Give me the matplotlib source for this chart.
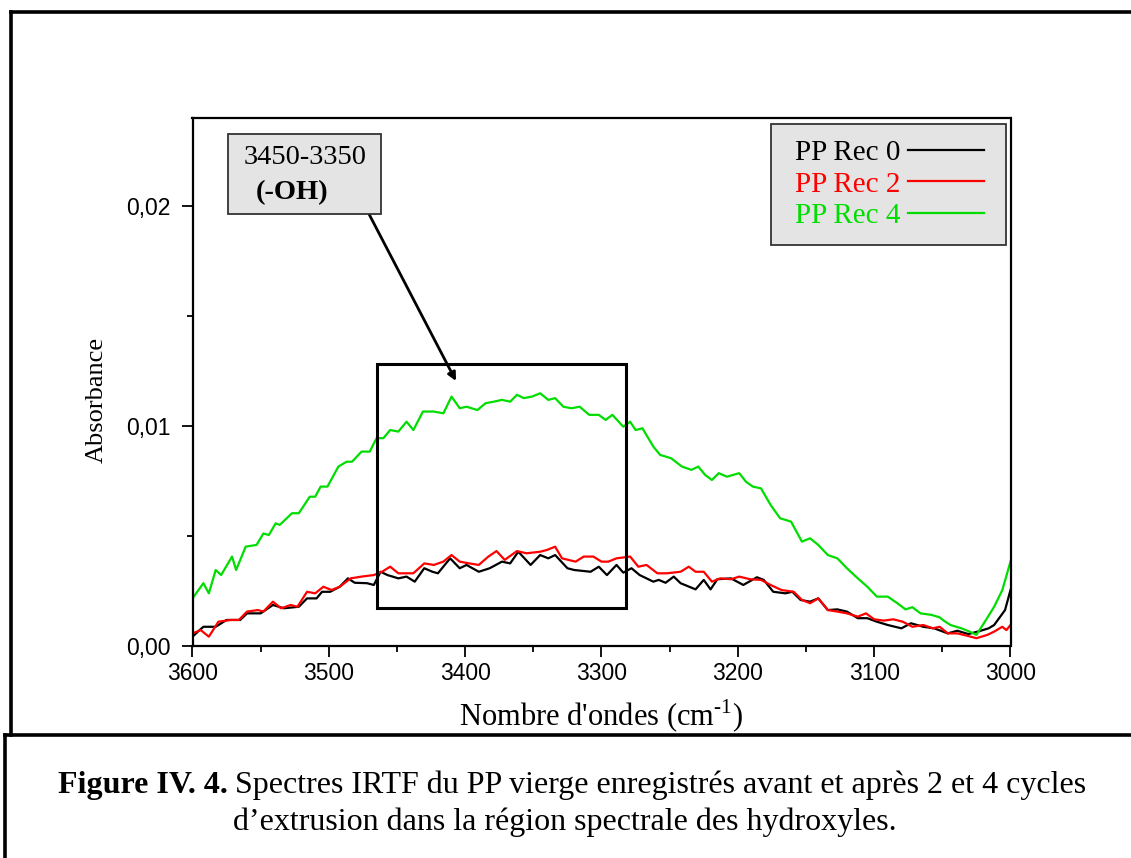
import matplotlib
matplotlib.use("Agg")
import matplotlib.pyplot as plt
from matplotlib.patches import Rectangle
from matplotlib.lines import Line2D
from matplotlib.ticker import MultipleLocator, FixedLocator, FixedFormatter

# ---------------- data ----------------
wn_rec0 = [3600, 3596, 3592, 3583, 3575, 3565, 3560, 3550, 3541, 3533, 3522, 3516,
           3509, 3505, 3499, 3492, 3486, 3481, 3472, 3467, 3462, 3457, 3449, 3443,
           3437, 3430, 3424, 3420, 3411, 3404, 3399, 3390, 3382, 3373, 3367, 3361,
           3352, 3345, 3339, 3334, 3325, 3320, 3308, 3302, 3296, 3289, 3284, 3278,
           3272, 3262, 3258, 3253, 3247, 3242, 3231, 3225, 3220, 3215, 3205, 3196,
           3186, 3181, 3174, 3165, 3160, 3154, 3147, 3141, 3134, 3127, 3120, 3112,
           3105, 3098, 3090, 3080, 3073, 3064, 3056, 3046, 3039, 3031, 3024, 3016,
           3012, 3004, 3000]
abs_rec0 = [0.00041, 0.00064, 0.00086, 0.00086, 0.00117, 0.00117, 0.00147, 0.00147,
            0.00185, 0.00170, 0.00177, 0.00215, 0.00215, 0.00245, 0.00245, 0.00268,
            0.00306, 0.00286, 0.00284, 0.00276, 0.00336, 0.00321, 0.00306, 0.00314,
            0.00291, 0.00352, 0.00336, 0.00329, 0.00397, 0.00352, 0.00367, 0.00336,
            0.00352, 0.00382, 0.00374, 0.00427, 0.00367, 0.00412, 0.00397, 0.00412,
            0.00352, 0.00344, 0.00336, 0.00359, 0.00321, 0.00367, 0.00332, 0.00352,
            0.00321, 0.00291, 0.00299, 0.00286, 0.00314, 0.00284, 0.00256, 0.00299,
            0.00256, 0.00302, 0.00306, 0.00276, 0.00311, 0.00299, 0.00245, 0.00238,
            0.00245, 0.00208, 0.00200, 0.00215, 0.00162, 0.00165, 0.00155, 0.00125,
            0.00125, 0.00109, 0.00094, 0.00079, 0.00102, 0.00086, 0.00079, 0.00056,
            0.00068, 0.00053, 0.00064, 0.00079, 0.00094, 0.00162, 0.00253]

wn_rec2 = [3600, 3594, 3588, 3581, 3572, 3566, 3560, 3552, 3548, 3541, 3535, 3528,
           3523, 3516, 3510, 3504, 3498, 3492, 3484, 3476, 3467, 3461, 3455, 3449,
           3438, 3430, 3423, 3416, 3410, 3404, 3397, 3390, 3383, 3377, 3371, 3362,
           3355, 3345, 3340, 3334, 3329, 3319, 3313, 3306, 3300, 3295, 3289, 3279,
           3273, 3267, 3259, 3252, 3242, 3236, 3231, 3225, 3219, 3213, 3205, 3199,
           3191, 3183, 3176, 3168, 3159, 3153, 3147, 3141, 3134, 3127, 3120, 3112,
           3106, 3100, 3093, 3086, 3079, 3072, 3064, 3057, 3052, 3046, 3039, 3031,
           3025, 3017, 3012, 3006, 3003, 3000]
abs_rec2 = [0.00056, 0.00071, 0.00041, 0.00109, 0.00117, 0.00117, 0.00155, 0.00162,
            0.00155, 0.00200, 0.00170, 0.00185, 0.00177, 0.00245, 0.00238, 0.00268,
            0.00253, 0.00268, 0.00306, 0.00314, 0.00321, 0.00336, 0.00359, 0.00329,
            0.00329, 0.00374, 0.00367, 0.00382, 0.00412, 0.00382, 0.00374, 0.00367,
            0.00405, 0.00430, 0.00390, 0.00430, 0.00420, 0.00427, 0.00435, 0.00450,
            0.00397, 0.00382, 0.00405, 0.00405, 0.00382, 0.00382, 0.00397, 0.00405,
            0.00359, 0.00367, 0.00329, 0.00329, 0.00336, 0.00359, 0.00336, 0.00336,
            0.00291, 0.00306, 0.00302, 0.00314, 0.00302, 0.00299, 0.00276, 0.00253,
            0.00245, 0.00208, 0.00193, 0.00215, 0.00162, 0.00155, 0.00147, 0.00132,
            0.00147, 0.00120, 0.00114, 0.00120, 0.00109, 0.00086, 0.00094, 0.00079,
            0.00086, 0.00056, 0.00056, 0.00044, 0.00034, 0.00049, 0.00064, 0.00086,
            0.00071, 0.00094]

wn_rec4 = [3600, 3592, 3588, 3583, 3579, 3571, 3568, 3561, 3553, 3548, 3544, 3539,
           3536, 3527, 3522, 3514, 3510, 3506, 3501, 3493, 3487, 3483, 3476, 3470,
           3465, 3460, 3455, 3449, 3443, 3438, 3431, 3423, 3416, 3410, 3404, 3399,
           3391, 3385, 3379, 3373, 3367, 3362, 3357, 3351, 3345, 3339, 3334, 3328,
           3322, 3316, 3309, 3302, 3297, 3292, 3284, 3279, 3275, 3270, 3262, 3257,
           3249, 3241, 3234, 3229, 3224, 3219, 3214, 3208, 3199, 3194, 3189, 3183,
           3176, 3169, 3161, 3153, 3147, 3141, 3134, 3127, 3120, 3112, 3105, 3098,
           3090, 3083, 3077, 3072, 3066, 3058, 3052, 3049, 3044, 3036, 3030, 3025,
           3018, 3012, 3006, 3000]
abs_rec4 = [0.00215, 0.00284, 0.00238, 0.00344, 0.00321, 0.00405, 0.00344, 0.00450,
            0.00458, 0.00510, 0.00503, 0.00556, 0.00549, 0.00602, 0.00602, 0.00677,
            0.00677, 0.00723, 0.00723, 0.00814, 0.00836, 0.00836, 0.00882, 0.00882,
            0.00943, 0.00943, 0.00980, 0.00973, 0.01018, 0.00980, 0.01064, 0.01064,
            0.01056, 0.01132, 0.01079, 0.01086, 0.01071, 0.01102, 0.01109, 0.01117,
            0.01109, 0.01140, 0.01125, 0.01132, 0.01147, 0.01117, 0.01125, 0.01086,
            0.01079, 0.01086, 0.01049, 0.01049, 0.01026, 0.01049, 0.00995, 0.01018,
            0.00980, 0.00988, 0.00905, 0.00867, 0.00852, 0.00814, 0.00799, 0.00814,
            0.00776, 0.00753, 0.00784, 0.00768, 0.00784, 0.00745, 0.00723, 0.00715,
            0.00640, 0.00579, 0.00564, 0.00473, 0.00488, 0.00458, 0.00412, 0.00397,
            0.00352, 0.00306, 0.00268, 0.00223, 0.00223, 0.00193, 0.00165, 0.00175,
            0.00147, 0.00140, 0.00129, 0.00114, 0.00094, 0.00079, 0.00064, 0.00049,
            0.00117, 0.00177, 0.00253, 0.00382]

series_labels = ["PP Rec 0", "PP Rec 2", "PP Rec 4"]
series_colors = ["#000000", "#ff0000", "#00dd00"]

x_ticks = [3600, 3500, 3400, 3300, 3200, 3100, 3000]
y_ticks = [0.00, 0.01, 0.02]
y_tick_labels = ["0,00", "0,01", "0,02"]
x_label = "Nombre d'ondes (cm$^{\\mathregular{\u2010}\\mathregular{1}}$)"
y_label = "Absorbance"
annot_lines = ["3450-3350", "(-OH)"]
caption_bold = "Figure IV. 4."
caption_line1 = "Spectres IRTF du PP vierge enregistrés avant et après 2 et 4 cycles"
caption_line2 = "d\u2019extrusion dans la région spectrale des hydroxyles."

# ---------------- figure ----------------
W, H = 1131, 858
plt.rcParams["mathtext.fontset"] = "custom"
plt.rcParams["mathtext.rm"] = "Liberation Serif"
SERIF = "Liberation Serif"
SANS = "Liberation Sans"

fig = plt.figure(figsize=(W / 100, H / 100), dpi=100)
ax = fig.add_axes([192.5 / W, 1 - 645.7 / H, 818 / W, 527.7 / H])

xs = [wn_rec0, wn_rec2, wn_rec4]
ys = [abs_rec0, abs_rec2, abs_rec4]
handles = []
for xv, yv, c, lab in zip(xs, ys, series_colors, series_labels):
    h, = ax.plot(xv, yv, color=c, lw=1.6, label=lab)
    handles.append(h)

ax.set_xlim(3600, 3000)
ax.set_ylim(0.0, 0.02398)
ax.xaxis.set_major_locator(FixedLocator(x_ticks))
ax.xaxis.set_minor_locator(MultipleLocator(50))
ax.yaxis.set_major_locator(FixedLocator(y_ticks))
ax.yaxis.set_major_formatter(FixedFormatter(y_tick_labels))
ax.yaxis.set_minor_locator(MultipleLocator(0.005))
ax.tick_params(which="major", direction="out", length=8, width=1.3,
               labelsize=16.5, pad=4)
ax.tick_params(axis="y", which="major", pad=7.5)
ax.tick_params(which="minor", direction="out", length=4.5, width=1.3)
for lab in ax.get_xticklabels() + ax.get_yticklabels():
    lab.set_fontfamily(SANS)
for s in ax.spines.values():
    s.set_linewidth(1.6)

ax.set_xlabel(x_label, fontfamily=SERIF, fontsize=22, labelpad=9)
ax.set_ylabel(y_label, fontfamily=SERIF, fontsize=19)
ax.yaxis.set_label_coords(-0.104, 0.466)

# legend: grey box + frameless legend
ax.add_patch(Rectangle((0.7072, 0.7593), 0.2873, 0.2293, transform=ax.transAxes,
                       facecolor="#e4e4e4", edgecolor="#333333", lw=1.3, zorder=5))
leg = ax.legend(handles=handles, loc="upper left", bbox_to_anchor=(0.7366, 0.9586),
                markerfirst=False, labelcolor="linecolor", frameon=False,
                prop={"family": SERIF, "size": 21}, handlelength=2.6,
                handletextpad=0.25, labelspacing=0.17, borderpad=0,
                borderaxespad=0)
leg.set_zorder(6)

# annotation box with arrow
ax.add_patch(Rectangle((0.0430, 0.8175), 0.1874, 0.1516, transform=ax.transAxes,
                       facecolor="#e4e4e4", edgecolor="#333333", lw=1.3, zorder=5))
ax.text(0.1375, 0.9242, annot_lines[0], transform=ax.transAxes, ha="center",
        va="center", fontfamily=SERIF, fontsize=20.5, zorder=6)
ax.text(0.1216, 0.8579, annot_lines[1], transform=ax.transAxes, ha="center",
        va="center", fontfamily=SERIF, fontsize=20.5, fontweight="bold", zorder=6)
ax.annotate("", xy=(0.3221, 0.5016), xytext=(0.2158, 0.8179),
            xycoords="axes fraction", textcoords="axes fraction",
            arrowprops=dict(arrowstyle="-|>", color="black", lw=2,
                            mutation_scale=12, shrinkA=0, shrinkB=0))

# highlight rectangle
ax.add_patch(Rectangle((0.2252, 0.0709), 0.3048, 0.4624, transform=ax.transAxes,
                       facecolor="none", edgecolor="black", lw=2.2, zorder=4))

# outer frames
def fline(x0, y0, x1, y1, lw=2.6):
    fig.add_artist(Line2D([x0 / W, x1 / W], [1 - y0 / H, 1 - y1 / H],
                          transform=fig.transFigure, color="black", lw=lw,
                          solid_capstyle="projecting"))

fline(11, 11.5, W + 5, 11.5)
fline(11, 11.5, 11, 735)
fline(5, 735, W + 5, 735)
fline(5, 735, 5, H + 5)

# caption
r = fig.canvas.get_renderer()
t_b = fig.text(0, 1 - 793 / H, caption_bold, fontfamily=SERIF, fontsize=23,
               fontweight="bold", ha="left", va="baseline")
t_r = fig.text(0, 1 - 793 / H, caption_line1, fontfamily=SERIF, fontsize=23,
               ha="left", va="baseline")
wb = t_b.get_window_extent(r).width
wr = t_r.get_window_extent(r).width
gap = 7
x0 = 572 - (wb + gap + wr) / 2
t_b.set_x(x0 / W)
t_r.set_x((x0 + wb + gap) / W)
fig.text(565 / W, 1 - 830 / H, caption_line2, fontfamily=SERIF, fontsize=23,
         ha="center", va="baseline")

fig.savefig("out.png", dpi=100)
